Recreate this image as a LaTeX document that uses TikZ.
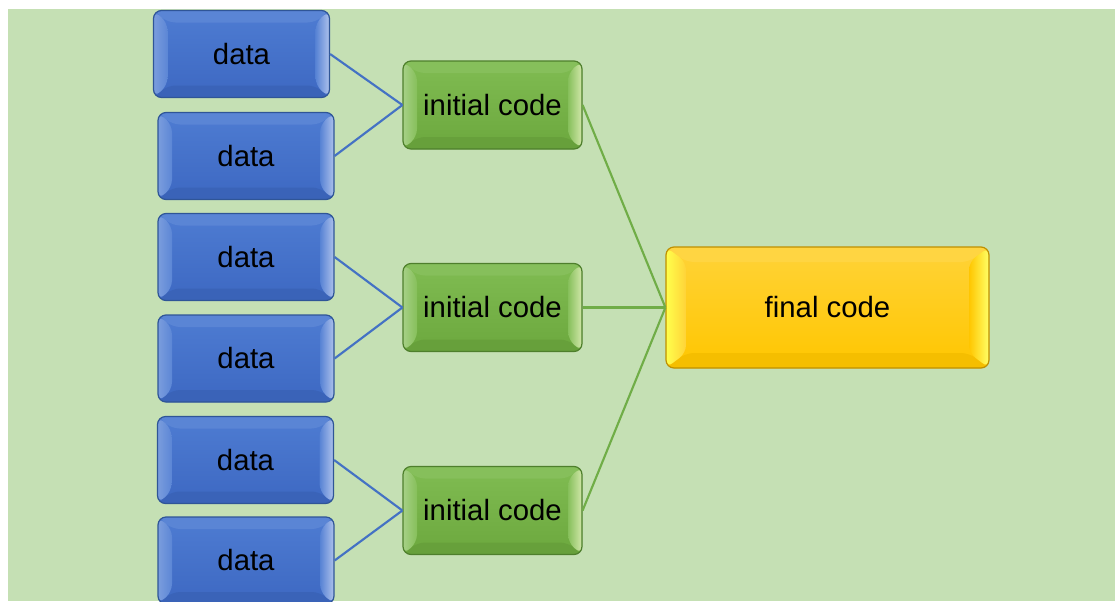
\documentclass[tikz,border=0pt]{standalone}
\usepackage{fontspec}
\setmainfont{Liberation Sans}
\definecolor{bg}{HTML}{C5E0B4}
\definecolor{blueedge}{HTML}{2F5597}
\definecolor{bluetop}{HTML}{4E7CD2}
\definecolor{bluebot}{HTML}{3D68C2}
\definecolor{blueline}{HTML}{4472C4}
\definecolor{greenedge}{HTML}{4E7F2C}
\definecolor{greentop}{HTML}{80BC52}
\definecolor{greenbot}{HTML}{6CA83E}
\definecolor{greenline}{HTML}{70AD47}
\definecolor{yellowedge}{HTML}{BF9000}
\definecolor{yellowtop}{HTML}{FFD338}
\definecolor{yellowbot}{HTML}{FFC600}
\newcommand{\bevelfaces}[6]{%
  \path (path picture bounding box.north west) coordinate (bnw)
        (path picture bounding box.north east) coordinate (bne)
        (path picture bounding box.south west) coordinate (bsw)
        (path picture bounding box.south east) coordinate (bse);
  \fill[#3] (bnw) -- (bne) -- ([shift={(-#1,#2)}]bne) -- ([shift={(#1,#2)}]bnw) -- cycle;
  \fill[#4] (bsw) -- (bse) -- ([shift={(-#1,-#2)}]bse) -- ([shift={(#1,-#2)}]bsw) -- cycle;
  \shade[#5] (bnw) -- ([shift={(#1,#2)}]bnw) -- ([shift={(#1,-#2)}]bsw) -- (bsw) -- cycle;
  \shade[#6] (bne) -- ([shift={(-#1,#2)}]bne) -- ([shift={(-#1,-#2)}]bse) -- (bse) -- cycle;
}
\tikzset{
  bevel/.style n args={6}{path picture={\bevelfaces{#1}{#2}{#3}{#4}{#5}{#6}}},
  box/.style={rounded corners=6pt, line width=0.9pt, inner sep=0pt,
    font=\fontsize{22}{26}\selectfont, text=black},
  databox/.style={box, draw=blueedge, top color=bluetop, bottom color=bluebot,
    minimum width=132pt, minimum height=65.25pt,
    bevel={14}{12}{fill=bluetop!93!white}{fill=bluebot!95!black}
      {left color=bluetop!75!white, right color=bluetop!92!white}
      {left color=bluetop!95!white, right color=blue!5!bluetop!45!white}},
  initbox/.style={box, draw=greenedge, top color=greentop, bottom color=greenbot,
    minimum width=134.25pt, minimum height=66pt,
    bevel={14}{12}{fill=greentop!95!white}{fill=greenbot!95!black}
      {left color=greentop!70!white, right color=greentop!95!white}
      {left color=greentop!95!white, right color=yellow!20!greentop!45!white}},
  finalbox/.style={box, draw=yellowedge, top color=yellowtop, bottom color=yellowbot,
    minimum width=242.25pt, minimum height=90.75pt,
    bevel={20}{15}{fill=yellowtop!95!white}{fill=yellowbot!96!black}
      {left color=yellow!70!white, right color=yellowtop}
      {left color=yellowbot, right color=yellow!60!white}},
  bline/.style={draw=blueline, line width=1.6pt},
  gline/.style={draw=greenline, line width=1.6pt},
}
\begin{document}
\begin{tikzpicture}[x=0.75pt,y=-0.75pt]
\useasboundingbox (0,0) rectangle (1115,601);
\fill[bg] (8,9) rectangle (1115,601);

\node[databox] (d1) at (241.5,54) {data};
\node[databox] (d2) at (246,156) {data};
\node[databox] (d3) at (246,257) {data};
\node[databox] (d4) at (246,358.5) {data};
\node[databox] (d5) at (245.5,460) {data};
\node[databox] (d6) at (246,560.5) {data};

\node[initbox] (i1) at (492.5,105) {initial code};
\node[initbox] (i2) at (492.5,307.5) {initial code};
\node[initbox] (i3) at (492.5,510.5) {initial code};

\node[finalbox] (f) at (827.5,307.5) {final code};

\draw[bline] (d1.east) -- (i1.west);
\draw[bline] (d2.east) -- (i1.west);
\draw[bline] (d3.east) -- (i2.west);
\draw[bline] (d4.east) -- (i2.west);
\draw[bline] (d5.east) -- (i3.west);
\draw[bline] (d6.east) -- (i3.west);

\draw[gline] (i1.east) -- (f.west);
\draw[gline] (i2.east) -- (f.west);
\draw[gline] (i3.east) -- (f.west);
\end{tikzpicture}
\end{document}
